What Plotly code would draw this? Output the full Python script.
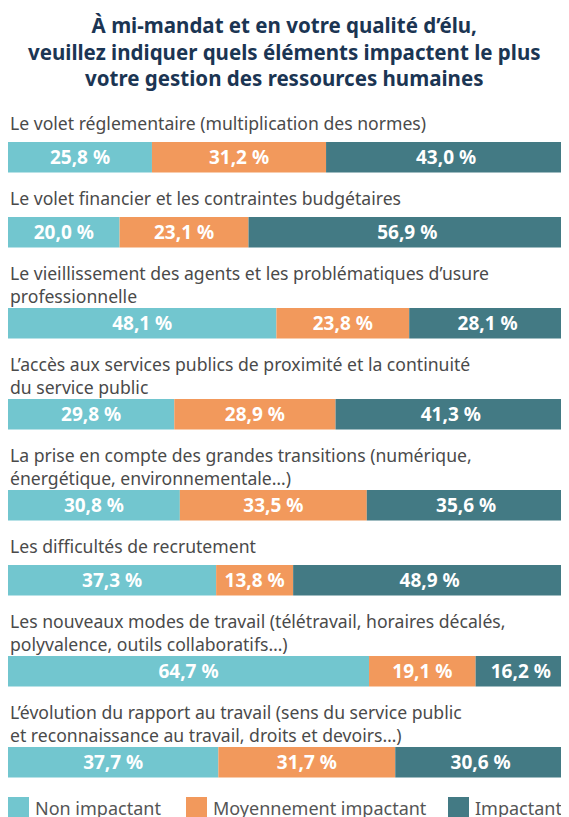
import plotly.graph_objects as go

# ---------------- data ----------------
categories = [
    "Le volet réglementaire (multiplication des normes)",
    "Le volet financier et les contraintes budgétaires",
    "Le vieillissement des agents et les problématiques d’usure<br>professionnelle",
    "L’accès aux services publics de proximité et la continuité<br>du service public",
    "La prise en compte des grandes transitions (numérique,<br>énergétique, environnementale…)",
    "Les difficultés de recrutement",
    "Les nouveaux modes de travail (télétravail, horaires décalés,<br>polyvalence, outils collaboratifs…)",
    "L’évolution du rapport au travail (sens du service public<br>et reconnaissance au travail, droits et devoirs…)",
]
non_impactant = [25.8, 20.0, 48.1, 29.8, 30.8, 37.3, 64.7, 37.7]
moyennement = [31.2, 23.1, 23.8, 28.9, 33.5, 13.8, 19.1, 31.7]
impactant = [43.0, 56.9, 28.1, 41.3, 35.6, 48.9, 16.2, 30.6]
series_names = ["Non impactant", "Moyennement impactant", "Impactant"]
title_text = ("À mi-mandat et en votre qualité d’élu,<br>"
              "veuillez indiquer quels éléments impactent le plus<br>"
              "votre gestion des ressources humaines")

# ---------------- style ----------------
OFF = 8                      # page body margin
W, H = 569 - OFF, 817 - OFF  # figure size so that it fills the window
ML, MR = 0, 3
colors = ["#72c6cf", "#f2995c", "#437a84"]
FONT = "Noto Sans"
LABEL_COLOR = "#4a4a4a"
TITLE_COLOR = "#1b3553"
BAR_H = 30.5
FIRST_BAR_TOP = 142 - OFF
STEP_ONE_LINE = 75
EXTRA_PER_LINE = 16
LABEL_GAP = 11

# vertical layout (y axis in pixel units, top = 0)
tops = []
t = FIRST_BAR_TOP
for i, c in enumerate(categories):
    n = c.count("<br>") + 1
    if i > 0:
        t = t + STEP_ONE_LINE + EXTRA_PER_LINE * (n - 1)
    tops.append(t)
centers = [tp + BAR_H / 2 for tp in tops]
label_tops = []
for i, c in enumerate(categories):
    n = c.count("<br>") + 1
    label_tops.append(tops[i] - (STEP_ONE_LINE + EXTRA_PER_LINE * (n - 1)) + BAR_H + LABEL_GAP)


def fmt(v):
    return f"{v:.1f}".replace(".", ",") + " %"


fig = go.Figure()
base = [0.0] * len(categories)
for name, vals, col in zip(series_names, [non_impactant, moyennement, impactant], colors):
    fig.add_trace(go.Bar(
        name=name, orientation="h", y=centers, x=vals, base=list(base),
        width=BAR_H, marker=dict(color=col, line=dict(width=0)),
        text=[fmt(v) for v in vals], textposition="inside",
        insidetextanchor="middle", textangle=0, constraintext="none",
        textfont=dict(family=FONT, size=19, color="white", weight="bold"),
        showlegend=False, hoverinfo="skip",
    ))
    base = [b + v for b, v in zip(base, vals)]

# category labels
for c, lt in zip(categories, label_tops):
    fig.add_annotation(text=c, x=0, xref="paper", y=lt, yref="y",
                       xanchor="left", yanchor="top", showarrow=False, align="left",
                       font=dict(family=FONT, size=17.6, color=LABEL_COLOR))

# title
pw = W - ML - MR
fig.add_annotation(text=title_text, x=(284.5 - OFF - ML) / pw, xref="paper", y=1, yref="y",
                   xanchor="center", yanchor="top", showarrow=False, align="center",
                   font=dict(family=FONT, size=20.5, color=TITLE_COLOR, weight="bold"))

# manual legend (20px squares)
legend_px = [8, 186, 448]
SQ = 21
LEG_TOP = 797 - OFF
for name, col, px in zip(series_names, colors, legend_px):
    x0 = (px - OFF - ML) / pw
    x1 = (px - OFF + SQ - ML) / pw
    fig.add_shape(type="rect", xref="paper", yref="y", x0=x0, x1=x1,
                  y0=LEG_TOP, y1=LEG_TOP + SQ + 2, fillcolor=col, line=dict(width=0))
    fig.add_annotation(text=name, x=(px - OFF + SQ + 4 - ML) / pw, xref="paper",
                       y=LEG_TOP - 3, yref="y", xanchor="left", yanchor="top",
                       showarrow=False, font=dict(family=FONT, size=18, color="#555555"))

fig.update_layout(
    width=W, height=H,
    margin=dict(l=ML, r=MR, t=0, b=0),
    paper_bgcolor="white", plot_bgcolor="white",
    barmode="overlay",
    xaxis=dict(range=[0, 100], visible=False, fixedrange=True),
    yaxis=dict(range=[H, 0], visible=False, fixedrange=True),
    showlegend=False,
)

fig.write_html("out.html", config={"displayModeBar": False})
